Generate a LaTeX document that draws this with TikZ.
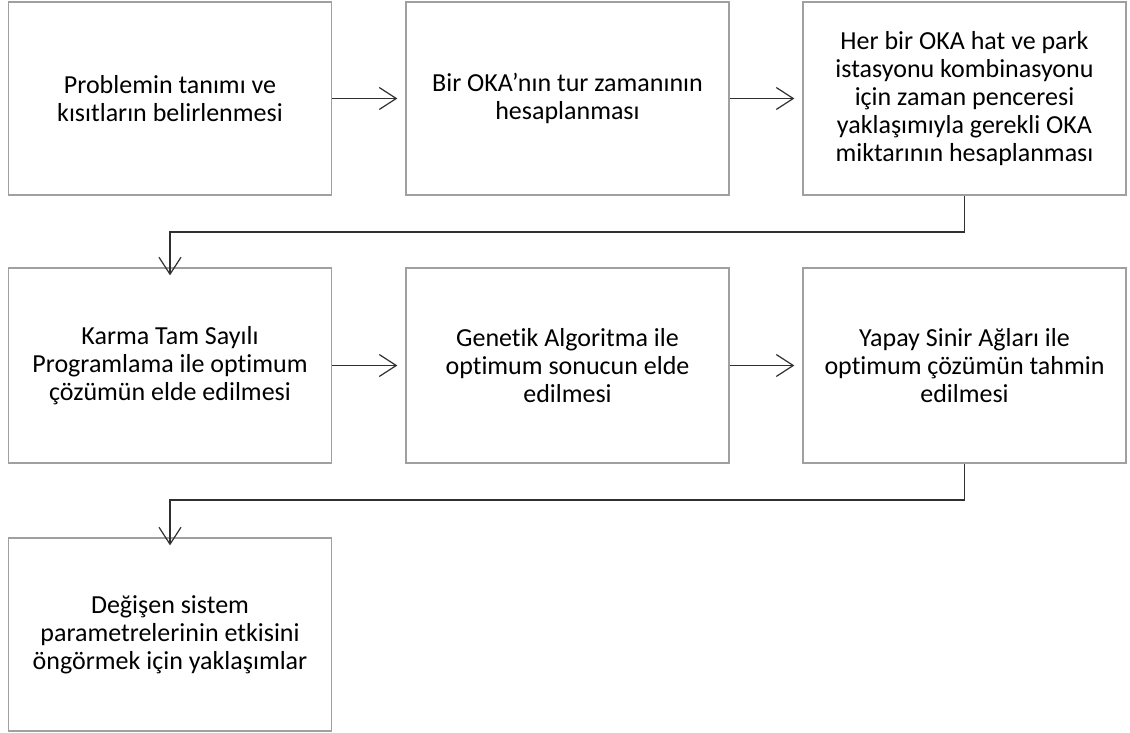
\documentclass[tikz,border=0pt]{standalone}
\usepackage{fontspec}
\setmainfont{Carlito}[Ligatures=NoCommon]
\usetikzlibrary{arrows.meta}
\begin{document}
\begin{tikzpicture}[x=1pt,y=-1pt,
  stepbox/.style={draw=boxgrey,line width=1.3pt,minimum width=323pt,minimum height=193pt,
    align=center,inner sep=0pt,font=\fontsize{26pt}{28pt}\selectfont},
  flow/.style={draw=linedark,line width=1.2pt,-{Straight Barb[length=17pt,width=22pt,line width=1.2pt]}}]
\definecolor{boxgrey}{HTML}{A0A0A0}
\definecolor{linedark}{HTML}{303030}
\useasboundingbox (0,0) rectangle (1130,733);
% first row
\node[stepbox] (b1) at (170,98.5) {Problemin tanımı ve\\kısıtların belirlenmesi};
\node[stepbox] (b2) at (567.5,98.5) {Bir OKA’nın tur zamanının\\hesaplanması};
\node[stepbox] (b3) at (964.5,98.5) {Her bir OKA hat ve park\\istasyonu kombinasyonu\\için zaman penceresi\\yaklaşımıyla gerekli OKA\\miktarının hesaplanması};
% second row
\node[stepbox,minimum height=195pt] (b4) at (170,365.5) {Karma Tam Sayılı\\Programlama ile optimum\\çözümün elde edilmesi};
\node[stepbox,minimum height=195pt] (b5) at (567.5,365.5) {Genetik Algoritma ile\\optimum sonucun elde\\edilmesi};
\node[stepbox,minimum height=195pt] (b6) at (964.5,365.5) {Yapay Sinir Ağları ile\\optimum çözümün tahmin\\edilmesi};
% third row
\node[stepbox] (b7) at (170,634.5) {Değişen sistem\\parametrelerinin etkisini\\öngörmek için yaklaşımlar};
% connectors
\draw[flow] (b1.east) -- ([xshift=-8pt]b2.west);
\draw[flow] (b2.east) -- ([xshift=-8pt]b3.west);
\draw[flow] (b4.east) -- ([xshift=-8pt]b5.west);
\draw[flow] (b5.east) -- ([xshift=-8pt]b6.west);
\coordinate (t1) at (964.5,232);
\coordinate (t2) at (964.5,500);
\draw[flow] (b3.south) -- (t1) -| ([yshift=-8pt]b4.north);
\draw[flow] (b6.south) -- (t2) -| ([yshift=-8pt]b7.north);
\end{tikzpicture}
\end{document}
